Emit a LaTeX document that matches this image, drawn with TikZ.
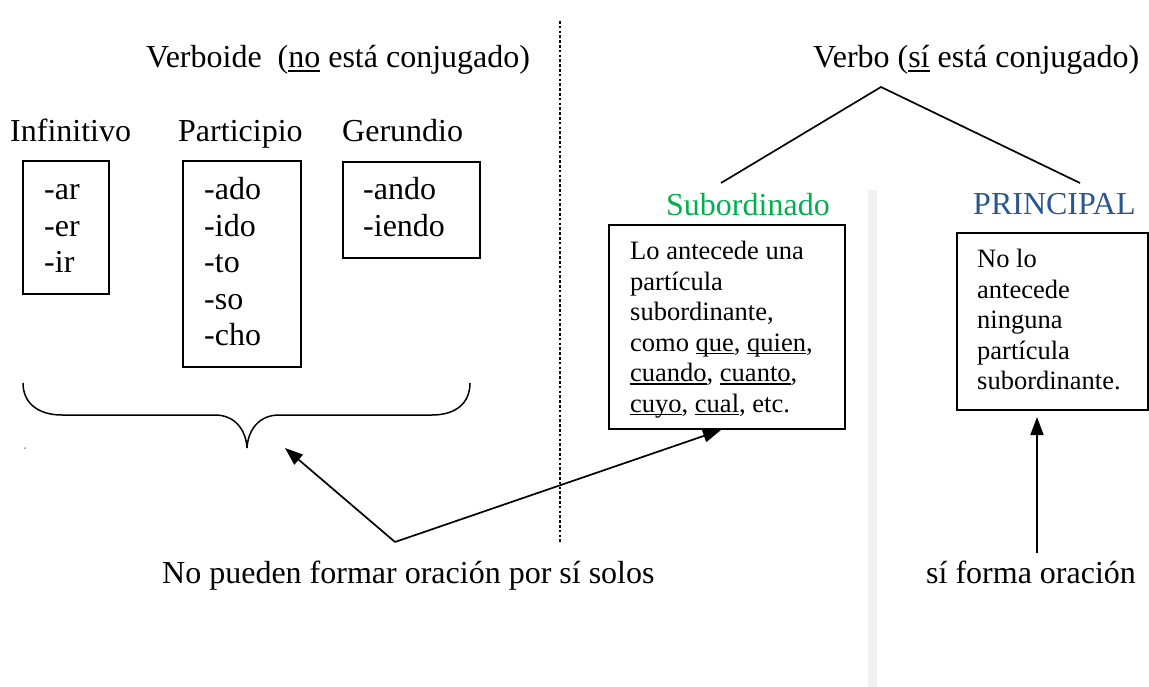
\documentclass[tikz,border=0pt]{standalone}
\usepackage{fontspec}
\setmainfont{Liberation Serif}
\usetikzlibrary{arrows.meta,calc}
\newcommand\myul[1]{\setbox0\hbox{#1}\rlap{\rule[-0.11em]{\wd0}{0.06em}}\box0\relax}
\definecolor{subgreen}{HTML}{00B050}
\definecolor{prinblue}{HTML}{2A568F}
\definecolor{sepgray}{HTML}{F0F0F0}
\tikzset{
  big/.style={font=\fontsize{32}{36.5}\selectfont, inner sep=0pt, anchor=base west},
  small/.style={font=\fontsize{26.5}{30.5}\selectfont, inner sep=0pt, anchor=base west},
  boxframe/.style={draw, line width=2pt, inner sep=0pt, anchor=north west},
  link/.style={line width=1.7pt},
  arr/.style={line width=1.7pt, -{Triangle[length=18pt,width=13pt]}},
  dotline/.style={line width=1.4pt, dash pattern=on 2.6pt off 2.2pt}
}
\begin{document}
\begin{tikzpicture}[x=1pt,y=-1pt]
\useasboundingbox (0,0) rectangle (1149,687);
% separators
\fill[sepgray] (868,190) rectangle (877,687);
\coordinate (dotT) at (560,21);
\coordinate (dotB) at (560,542);
\draw[dotline] (dotT) -- (dotB);
% headings
\node[big] (verboide) at (146,68) {Verboide\ \ (\myul{no} está conjugado)};
\node[big] (verbo) at (813,68) {Verbo (\myul{sí} está conjugado)};
\node[big] (infin) at (10,142) {Infinitivo};
\node[big] (partic) at (178,142) {Participio};
\node[big] (gerund) at (342,142) {Gerundio};
% verboide boxes
\node[boxframe, minimum width=86pt, minimum height=133pt] (infbox) at (22,160) {};
\node[boxframe, minimum width=118pt, minimum height=206pt] (parbox) at (182,160) {};
\node[boxframe, minimum width=137pt, minimum height=96pt] (gerbox) at (342,161) {};
\node[big] (inftext) at (44,200) {\begin{tabular}[t]{@{}l@{}}-ar\\-er\\-ir\end{tabular}};
\node[big] (partext) at (204,200) {\begin{tabular}[t]{@{}l@{}}-ado\\-ido\\-to\\-so\\-cho\end{tabular}};
\node[big] (gertext) at (363,200) {\begin{tabular}[t]{@{}l@{}}-ando\\-iendo\end{tabular}};
% brace
\draw[link, line width=1.5pt] (23,383) .. controls (23,403) and (38,415) .. (62,415) -- (215,415)
  .. controls (235,415) and (246,430) .. (247,448)
  .. controls (248,430) and (259,415) .. (279,415) -- (432,415)
  .. controls (456,415) and (470,403) .. (470,383);
\coordinate (braceTip) at (247,448);
\fill[black!45] (25,448) circle (1);
% verbo tree
\coordinate (treeTop) at (881,87);
\coordinate (treeL) at (721,183);
\coordinate (treeR) at (1080,183);
\draw[link] (treeL) -- (treeTop) -- (treeR);
\node[big, text=subgreen] (subord) at (666,216) {Subordinado};
\node[big, text=prinblue] (princ) at (973,215) {PRINCIPAL};
\node[boxframe, minimum width=236pt, minimum height=204pt] (subbox) at (608,224) {};
\node[boxframe, minimum width=191pt, minimum height=177pt] (prinbox) at (956,232) {};
\node[small] (subtext) at (630,260) {\begin{tabular}[t]{@{}l@{}}Lo antecede una\\partícula\\subordinante,\\como \myul{que}, \myul{quien},\\\myul{cuando}, \myul{cuanto},\\\myul{cuyo}, \myul{cual}, etc.\end{tabular}};
\node[small] (printext) at (977,268) {\begin{tabular}[t]{@{}l@{}}No lo\\antecede\\ninguna\\partícula\\subordinante.\end{tabular}};
% bottom texts
\node[big] (nopueden) at (162,583) {No pueden formar oración por sí solos};
\node[big] (siforma) at (926,583) {sí forma oración};
% arrows
\coordinate (apex) at (395,542);
\coordinate (leftTip) at (285,448);
\coordinate (subTip) at ($(subbox.south)+(-6,0)$);
\draw[arr] (apex) -- (leftTip);
\draw[arr] (apex) -- (subTip);
\coordinate (upStart) at (1037,553);
\coordinate (upTip) at (1037,417);
\draw[arr] (upStart) -- (upTip);
\end{tikzpicture}
\end{document}
